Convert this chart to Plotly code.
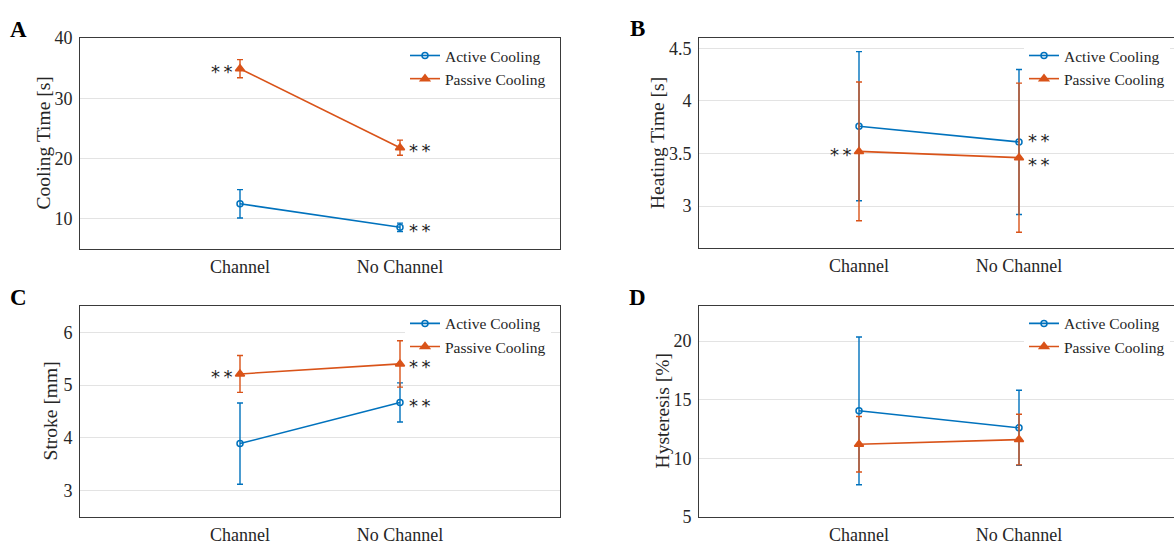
import plotly.graph_objects as go

# ---------------- data ----------------
categories = ["Channel", "No Channel"]
series_names = ["Active Cooling", "Passive Cooling"]

cool_active = [12.5, 8.6]
cool_active_err = [2.35, 0.7]
cool_passive = [34.9, 21.8]
cool_passive_err = [1.5, 1.25]

heat_active = [3.76, 3.61]
heat_active_err = [0.71, 0.69]
heat_passive = [3.52, 3.46]
heat_passive_err = [0.66, 0.71]

stroke_active = [3.89, 4.67]
stroke_active_err = [0.77, 0.37]
stroke_passive = [5.21, 5.40]
stroke_passive_err = [0.35, 0.44]

hyst_active = [14.05, 12.6]
hyst_active_err = [6.3, 3.2]
hyst_passive = [11.2, 11.6]
hyst_passive_err = [2.37, 2.16]

# significance flags per point
cool_active_sig = [False, True]
cool_passive_sig = [True, True]
heat_active_sig = [False, True]
heat_passive_sig = [True, True]
stroke_active_sig = [False, True]
stroke_passive_sig = [True, True]
hyst_active_sig = [False, False]
hyst_passive_sig = [False, False]

cool_ticks = [10, 20, 30, 40]
heat_ticks = [3, 3.5, 4, 4.5]
stroke_ticks = [3, 4, 5, 6]
hyst_ticks = [5, 10, 15, 20]

# ---------------- style ----------------
W, H = 1174, 552
BLUE = "#0072BD"
ORANGE = "#D95319"
FONT = "Liberation Serif"
TXT = "#262626"

x_pos = [i + 1 for i in range(len(categories))]

panels = [
    dict(letter="A", title="Cooling Time [s]",
         a=cool_active, ae=cool_active_err, p=cool_passive, pe=cool_passive_err,
         asig=cool_active_sig, psig=cool_passive_sig,
         ticks=cool_ticks, yr=[5, 40],
         px=(80, 560), py=(29, 248), xr=[0, 3], right_line=True,
         title_x=43, letter_xy=(18, 20), star_dy=(0, 0)),
    dict(letter="B", title="Heating Time [s]",
         a=heat_active, ae=heat_active_err, p=heat_passive, pe=heat_passive_err,
         asig=heat_active_sig, psig=heat_passive_sig,
         ticks=heat_ticks, yr=[2.6, 4.6],
         px=(699, 1174), py=(29, 247), xr=[1 - 160 / 160, 1 + 315 / 160], right_line=False,
         title_x=657, letter_xy=(637, 19), star_dy=(4, -4)),
    dict(letter="C", title="Stroke [mm]",
         a=stroke_active, ae=stroke_active_err, p=stroke_passive, pe=stroke_passive_err,
         asig=stroke_active_sig, psig=stroke_passive_sig,
         ticks=stroke_ticks, yr=[2.5, 6.5],
         px=(80, 560), py=(307, 526), xr=[0, 3], right_line=True,
         title_x=50, letter_xy=(18, 298), star_dy=(0, 0)),
    dict(letter="D", title="Hysteresis [%]",
         a=hyst_active, ae=hyst_active_err, p=hyst_passive, pe=hyst_passive_err,
         asig=hyst_active_sig, psig=hyst_passive_sig,
         ticks=hyst_ticks, yr=[5, 23],
         px=(699, 1174), py=(307, 526), xr=[1 - 160 / 160, 1 + 315 / 160], right_line=False,
         title_x=662, letter_xy=(637, 298), star_dy=(0, 0)),
]

fig = go.Figure()
annotations = []
layout = dict(
    width=W, height=H,
    margin=dict(l=0, r=0, t=0, b=0),
    paper_bgcolor="white", plot_bgcolor="white",
    font=dict(family=FONT, size=18, color=TXT),
    showlegend=True,
)


def fmt(v):
    return ("%g" % v)


for i, pn in enumerate(panels):
    k = "" if i == 0 else str(i + 1)
    xa, ya = "x" + k, "y" + k
    leg = "legend" + k
    x0, x1 = pn["px"]
    y0, y1 = pn["py"]
    dom_x = [x0 / W, min(x1 / W, 1.0)]
    dom_y = [1 - y1 / H, 1 - y0 / H]

    for vals, errs, name, color, sym, size in [
        (pn["a"], pn["ae"], series_names[0], BLUE, "circle-open", 6),
        (pn["p"], pn["pe"], series_names[1], ORANGE, "triangle-up", 8),
    ]:
        fig.add_trace(go.Scatter(
            x=x_pos, y=vals, name=name, mode="lines+markers",
            line=dict(color=color, width=1.6),
            marker=dict(symbol=sym, size=size, color=color,
                        line=dict(color=color, width=1.5)),
            error_y=dict(type="data", array=errs, visible=True,
                         color=color, thickness=1.4, width=3),
            xaxis=xa, yaxis=ya, legend=leg, showlegend=True,
        ))

    layout["xaxis" + k] = dict(
        domain=dom_x, range=pn["xr"], anchor=ya,
        tickvals=x_pos, ticktext=categories,
        showgrid=False, zeroline=False,
        showline=True, linecolor="#3a3a3a", linewidth=1,
        mirror=True, ticks="", ticklabelstandoff=1,
        tickfont=dict(family=FONT, size=18, color=TXT),
    )
    layout["yaxis" + k] = dict(
        domain=dom_y, range=pn["yr"], anchor=xa,
        tickvals=pn["ticks"], ticktext=[fmt(t) for t in pn["ticks"]],
        showgrid=True, gridcolor="#e3e3e3", gridwidth=1,
        zeroline=False, showline=True, linecolor="#3a3a3a", linewidth=1,
        mirror=pn["right_line"], ticks="", ticklabelstandoff=3,
        tickfont=dict(family=FONT, size=18, color=TXT),
    )

    layout[leg] = dict(
        x=min((x0 + 325) / W, 1.0),
        y=1 - (y0 + 1) / H, xanchor="left", yanchor="top",
        bgcolor="white", borderwidth=0,
        font=dict(family=FONT, size=15.5, color=TXT),
        tracegroupgap=0, itemwidth=30,
    )

    # axis title
    annotations.append(dict(
        text=pn["title"], textangle=-90, xref="paper", yref="paper",
        x=pn["title_x"] / W, y=1 - ((y0 + y1) / 2) / H,
        xanchor="center", yanchor="middle", showarrow=False,
        font=dict(family=FONT, size=19.5, color=TXT),
    ))
    # panel letter
    lx, ly = pn["letter_xy"]
    annotations.append(dict(
        text="<b>%s</b>" % pn["letter"], xref="paper", yref="paper",
        x=lx / W, y=1 - ly / H, xanchor="center", yanchor="middle",
        showarrow=False, font=dict(family=FONT, size=23, color="black"),
    ))
    # significance stars
    for si, (vals, sigs) in enumerate([(pn["a"], pn["asig"]), (pn["p"], pn["psig"])]):
        for j, (v, s) in enumerate(zip(vals, sigs)):
            if not s:
                continue
            left = j == 0
            annotations.append(dict(
                text="*\u2009*", xref=xa, yref=ya, x=x_pos[j], y=v,
                xanchor="right" if left else "left", yanchor="middle",
                xshift=-6 if left else 8,
                yshift=-3 + (pn["star_dy"][si] if not left else 0),
                showarrow=False, borderpad=0,
                font=dict(family="DejaVu Sans", size=18, color="#222"),
            ))

layout["annotations"] = annotations
fig.update_layout(**layout)
fig.write_html("out.html")
